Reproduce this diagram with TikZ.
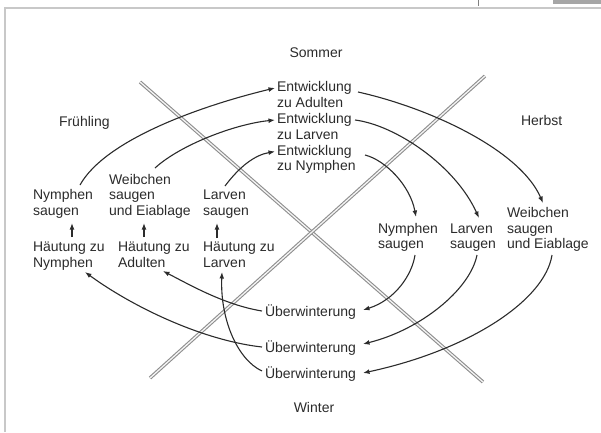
\documentclass[tikz,border=0pt]{standalone}
\usepackage{fontspec}
\setmainfont{Liberation Sans}
\usetikzlibrary{arrows.meta,calc}
\definecolor{ink}{HTML}{2B2B2B}
\definecolor{bar}{HTML}{8E8E8E}
\definecolor{framec}{HTML}{C8C8C8}
\begin{document}
\begin{tikzpicture}[x=1pt,y=1pt,
  txt/.style={inner sep=0pt, outer sep=0pt, align=left, text=ink, anchor=north west, font=\fontsize{14}{15.5}\selectfont},
  lbl/.style={inner sep=0pt, outer sep=0pt, text=ink, font=\fontsize{14}{15.5}\selectfont},
  arr/.style={draw=ink, line width=1.1pt, -{Latex[length=6.5pt,width=4.8pt]}},
  season/.style={draw=bar, line width=1.1pt, double=white!92!gray, double distance=1.3pt}]
\useasboundingbox (0,0) rectangle (601,-432);
% frame remnants
\draw[framec, line width=1.5pt] (5,-432) -- (5,-8) -- (601,-8);
\draw[gray, line width=1pt] (478,0) -- (478,-6);
\fill[gray!70] (553,0) rectangle (601,-4);
% season separators
\coordinate (s1a) at (140,-82);
\coordinate (s1b) at (483,-382);
\coordinate (s2a) at (485,-76);
\coordinate (s2b) at (150,-378);
\draw[season] (s1a) -- (s1b);
\draw[season] (s2a) -- (s2b);
% season labels
\node[lbl, anchor=base] (sommer) at (316,-57.5) {Sommer};
\node[lbl, anchor=base west] (fruehling) at (59,-126.5) {Frühling};
\node[lbl, anchor=base west] (herbst) at (521,-125.5) {Herbst};
\node[lbl, anchor=base] (winter) at (314,-412.5) {Winter};
% stage nodes
\node[txt] (enta) at (277,-80.7) {\strut Entwicklung\\zu Adulten};
\node[txt] (entl) at (277,-112.7) {\strut Entwicklung\\zu Larven};
\node[txt] (entn) at (277,-144.2) {\strut Entwicklung\\zu Nymphen};
\node[txt] (nysl) at (33,-189) {\strut Nymphen\\saugen};
\node[txt] (weibl) at (109,-173.5) {\strut Weibchen\\saugen\\und Eiablage};
\node[txt] (lasl) at (203,-189) {\strut Larven\\saugen};
\node[txt] (hn) at (33,-241) {\strut Häutung zu\\Nymphen};
\node[txt] (ha) at (118,-241) {\strut Häutung zu\\Adulten};
\node[txt] (hl) at (203,-241) {\strut Häutung zu\\Larven};
\node[txt] (nysr) at (378,-222.2) {\strut Nymphen\\saugen};
\node[txt] (lasr) at (450,-222.2) {\strut Larven\\saugen};
\node[txt] (weibr) at (507,-206.7) {\strut Weibchen\\saugen\\und Eiablage};
\node[txt] (ue1) at (265,-304.7) {\strut Überwinterung};
\node[txt] (ue2) at (265,-340.7) {\strut Überwinterung};
\node[txt] (ue3) at (265,-366.7) {\strut Überwinterung};
% spring -> summer
\draw[arr] ($(nysl.north west)+(47,4)$) .. controls (105,-140) and (200,-106) .. ($(enta.north west)+(-2,-7.3)$);
\draw[arr] ($(weibl.north west)+(46,5.5)$) .. controls (180,-145) and (235,-124) .. ($(entl.north west)+(-2,-7.3)$);
\draw[arr] ($(lasl.north west)+(22,3)$) .. controls (240,-166) and (255,-155) .. ($(entn.north west)+(-2,-7.3)$);
% summer -> autumn
\draw[arr] ($(enta.north west)+(81,-11.3)$) .. controls (430,-108) and (520,-150) .. ($(weibr.north west)+(36,3.7)$);
\draw[arr] ($(entl.north west)+(78,-7.3)$) .. controls (395,-125) and (455,-165) .. ($(lasr.north west)+(29,4.2)$);
\draw[arr] ($(entn.north west)+(88,-10.8)$) .. controls (385,-160) and (410,-185) .. ($(nysr.north west)+(38,5.2)$);
% autumn -> winter
\draw[arr] ($(nysr.north west)+(37,-32.8)$) .. controls (412,-275) and (395,-300) .. ($(ue1.north west)+(98,-5.3)$);
\draw[arr] ($(lasr.north west)+(27,-32.8)$) .. controls (470,-290) and (420,-330) .. ($(ue2.north west)+(98,-3.3)$);
\draw[arr] ($(weibr.north west)+(45,-48.3)$) .. controls (545,-300) and (470,-350) .. ($(ue3.north west)+(98,-6.3)$);
% winter -> spring
\draw[arr] ($(ue1.north west)+(-3,-6.3)$) .. controls (225,-305) and (190,-285) .. ($(ha.north west)+(45,-30)$);
\draw[arr] ($(ue2.north west)+(-3,-6.3)$) .. controls (200,-340) and (130,-305) .. ($(hn.north west)+(52,-31)$);
\draw[arr] ($(ue3.north west)+(-3,-4.3)$) .. controls (238,-360) and (220,-320) .. ($(hl.north west)+(19,-31)$);
% moults -> feeding
\draw[arr] ($(hn.north west)+(39,4)$) -- ($(nysl.north west)+(39,-34)$);
\draw[arr] ($(ha.north west)+(26,4)$) -- ($(weibl.north west)+(35,-49.5)$);
\draw[arr] ($(hl.north west)+(14,3)$) -- ($(lasl.north west)+(14,-34)$);
\end{tikzpicture}
\end{document}
